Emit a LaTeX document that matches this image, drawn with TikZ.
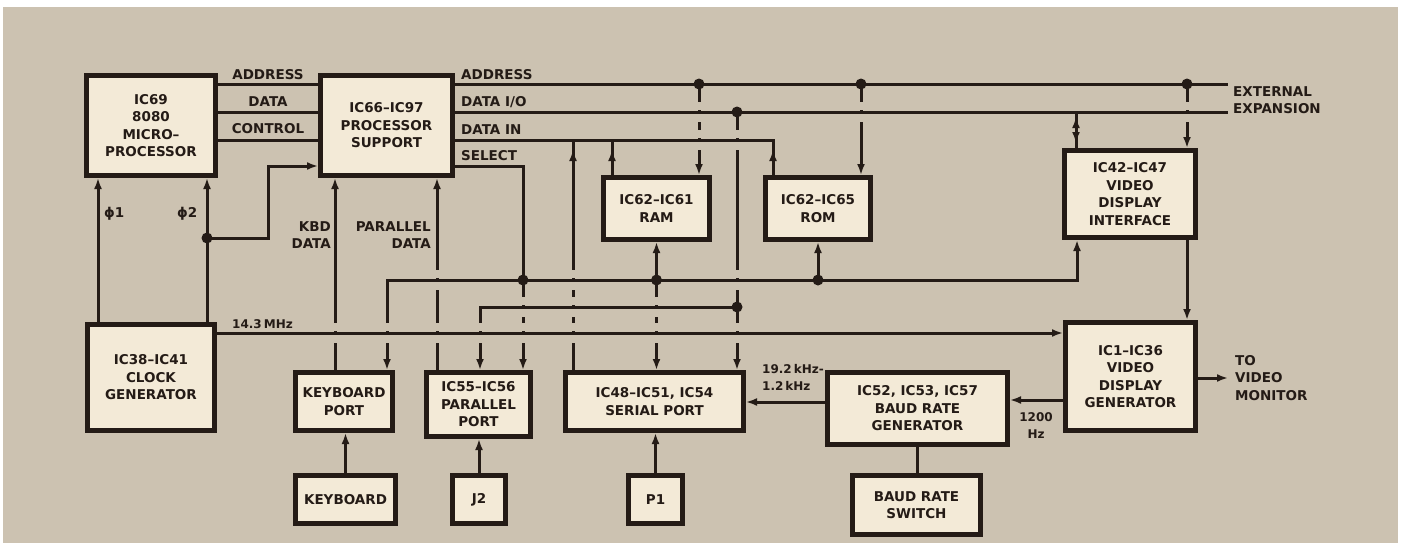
\documentclass[tikz,border=0pt]{standalone}
\usepackage{fontspec}
\setmainfont{DejaVu Sans}
\usetikzlibrary{arrows.meta,decorations.markings,calc}
\definecolor{paper}{RGB}{204,194,177}
\definecolor{cream}{RGB}{243,234,215}
\definecolor{ink}{RGB}{36,27,22}
\newcommand\bfnt{\fontsize{13.5}{17.5}\selectfont\bfseries}
\newcommand\tfnt{\fontsize{12}{17}\selectfont\bfseries}
\newcommand\gapat[2]{\fill[paper] (#1-3.2,#2-10) rectangle (#1+3.2,#2-2); \fill[paper] (#1-3.2,#2+2) rectangle (#1+3.2,#2+10);}
\begin{document}
\begin{tikzpicture}[x=1pt,y=-1pt,
  >={Latex[length=11pt,width=8pt]},
  wire/.style={draw=ink, line width=3pt},
  blk/.style={draw=ink, fill=cream, line width=5pt, align=center, font=\bfnt, inner sep=0pt, text=ink},
  bx/.style 2 args={minimum width={(#1-5)*1pt}, minimum height={(#2-5)*1pt}},
  lbl/.style={font=\bfnt, text=ink, inner sep=0pt, align=left},
  jdot/.style={circle, fill=ink, minimum size=11pt, inner sep=0pt},
  arrpos/.style={postaction={decorate}, decoration={markings, mark=at position #1 with {\arrow{>}}}}]
\fill[white] (0,0) rectangle (1405,549);
\fill[paper] (3,7) rectangle (1398,543);
\useasboundingbox (0,0) rectangle (1405,549);

% blocks
\node[blk, bx={134}{105}] (cpu) at (151,125.5) {IC69\\8080\\MICRO–\\PROCESSOR};
\node[blk, bx={137}{105}] (sup) at (386.5,125.5) {IC66–IC97\\PROCESSOR\\SUPPORT};
\node[blk, bx={111}{67}] (ram) at (656.5,208.5) {IC62–IC61\\RAM};
\node[blk, bx={110}{67}] (rom) at (818,208.5) {IC62–IC65\\ROM};
\node[blk, bx={136}{92}] (vdi) at (1130,194) {IC42–IC47\\VIDEO\\DISPLAY\\INTERFACE};
\node[blk, bx={132}{111}] (clk) at (151,377.5) {IC38–IC41\\CLOCK\\GENERATOR};
\node[blk, bx={102}{63}] (kbp) at (344,401.5) {KEYBOARD\\PORT};
\node[blk, bx={109}{69}] (par) at (478.5,404.5) {IC55–IC56\\PARALLEL\\PORT};
\node[blk, bx={183}{63}] (ser) at (654.5,401.5) {IC48–IC51, IC54\\SERIAL PORT};
\node[blk, bx={185}{77}] (baud) at (917.5,408.5) {IC52, IC53, IC57\\BAUD RATE\\GENERATOR};
\node[blk, bx={135}{113}] (vdg) at (1130.5,376.5) {IC1–IC36\\VIDEO\\DISPLAY\\GENERATOR};
\node[blk, bx={105}{53}] (kbd) at (345.5,499.5) {KEYBOARD};
\node[blk, bx={58}{53}] (j2) at (479,499.5) {J2};
\node[blk, bx={59}{53}] (p1) at (655.5,499.5) {P1};
\node[blk, bx={133}{64}] (sw) at (916.5,505) {BAUD RATE\\SWITCH};

% labels
\node[lbl] (tA0) at (268,75) {ADDRESS};
\node[lbl] (tD0) at (268,102) {DATA};
\node[lbl] (tC0) at (268,129) {CONTROL};
\node[lbl, anchor=west] (tA1) at (461,75) {ADDRESS};
\node[lbl, anchor=west] (tD1) at (461,102) {DATA I/O};
\node[lbl, anchor=west] (tI1) at (461,130) {DATA IN};
\node[lbl, anchor=west] (tS1) at (461,156) {SELECT};
\node[lbl, anchor=east, align=right] (tKD) at (331,235) {KBD\\DATA};
\node[lbl, anchor=east, align=right] (tPD) at (431,235) {PARALLEL\\DATA};
\node[lbl, anchor=west] (tF1) at (104,214) {ϕ1};
\node[lbl, anchor=west] (tF2) at (177,214) {ϕ2};
\node[lbl, font=\tfnt, anchor=west] (t14) at (232,324) {14.3\,MHz};
\node[lbl, font=\tfnt, anchor=west] (t19) at (762,377) {19.2\,kHz-\\1.2\,kHz};
\node[lbl, font=\tfnt, align=center] (t12) at (1036,426) {1200\\Hz};
\node[lbl, anchor=west] (mon) at (1235,378) {TO\\VIDEO\\MONITOR};
\node[lbl, anchor=west] (ext) at (1233,100) {EXTERNAL\\EXPANSION};

% coordinates
\coordinate (yA) at (0,84);
\coordinate (yD) at (0,112);
\coordinate (yC) at (0,140);
\coordinate (ext1) at (1228,84);
\coordinate (ext2) at (1228,112);
\coordinate (dA1) at (699,84);
\coordinate (dA2) at (861,84);
\coordinate (dA3) at (1187,84);
\coordinate (dD1) at (737,112);
\coordinate (tD) at (1076,112);
\coordinate (cDI) at (773,140);
\coordinate (xRT) at (612,0);
\coordinate (xST) at (573,0);
\coordinate (cS) at (523,166);
\coordinate (dS) at (523,280);
\coordinate (kL) at (387,280);
\coordinate (kR) at (1077,280);
\coordinate (dR) at (656.5,280);
\coordinate (dO) at (818,280);
\coordinate (dB) at (737,307);
\coordinate (bL) at (480,307);
\coordinate (dP) at (207,238);
\coordinate (p1c) at (268,238);
\coordinate (p2c) at (268,166);
\coordinate (xKD) at (335,0);
\coordinate (xPD) at (437,0);
\coordinate (xF1) at (98,0);
\coordinate (y14) at (0,333);
\coordinate (y12) at (0,400);
\coordinate (y19) at (0,402);

% buses
\draw[wire] (cpu.east |- yA) -- (sup.west |- yA);
\draw[wire] (cpu.east |- yD) -- (sup.west |- yD);
\draw[wire] (cpu.east |- yC) -- (sup.west |- yC);
\draw[wire] (sup.east |- yA) -- (ext1);
\draw[wire] (sup.east |- yD) -- (ext2);
\draw[wire, arrpos=25pt] (rom.north -| cDI) -- (cDI) -- (sup.east |- cDI);
\draw[wire, arrpos=-10pt] (ram.north -| xRT) -- (xRT |- yC);
\draw[wire, arrpos=-10pt] (ser.north -| xST) -- (xST |- yC);
\draw[wire,->] (dA1) -- (ram.north -| dA1);
\draw[wire,->] (dA2) -- (rom.north -| dA2);
\draw[wire,->] (dA3) -- (vdi.north -| dA3);
\draw[wire, postaction={decorate}, decoration={markings,
   mark=at position 5pt with {\arrowreversed{>}},
   mark=at position 31pt with {\arrow{>}}}] (tD) -- (vdi.north -| tD);
\draw[wire,->] (dD1) -- (ser.north -| dD1);
\draw[wire,->] (dB) -- (bL) -- (par.north -| bL);
\draw[wire,->] (sup.east |- cS) -- (cS) -- (par.north -| cS);
\draw[wire,<->] (kbp.north -| kL) -- (kL) -- (kR) -- (vdi.south -| kR);
\draw[wire,<->] (ram.south) -- (ser.north -| ram.south);
\draw[wire,->] (dO) -- (rom.south -| dO);
\draw[wire,->] (kbp.north -| xKD) -- (sup.south -| xKD);
\draw[wire,->] (par.north -| xPD) -- (sup.south -| xPD);
\draw[wire,->] (clk.north -| xF1) -- (cpu.south -| xF1);
\draw[wire,->] (clk.north -| dP) -- (cpu.south -| dP);
\draw[wire,->] (dP) -- (p1c) -- (p2c) -- (sup.west |- p2c);
\draw[wire,->] (clk.east |- y14) -- (vdg.west |- y14);
\draw[wire,->] (vdi.south -| dA3) -- (vdg.north -| dA3);
\draw[wire,->] (vdg.east |- mon.west) -- ([xshift=-7pt]mon.west);
\draw[wire,->] (vdg.west |- y12) -- (baud.east |- y12);
\draw[wire,->] (baud.west |- y19) -- (ser.east |- y19);
\draw[wire] (baud.south) -- (baud.south |- sw.north);
\draw[wire,->] (kbd.north) -- (kbd.north |- kbp.south);
\draw[wire,->] (j2.north) -- (j2.north |- par.south);
\draw[wire,->] (p1.north) -- (p1.north |- ser.south);

% crossing gaps
\gapat{699}{112}\gapat{861}{112}\gapat{1187}{112}
\gapat{699}{140}\gapat{737}{140}
\gapat{437}{280}\gapat{573}{280}\gapat{737}{280}
\gapat{523}{307}\gapat{573}{307}\gapat{656.5}{307}
\gapat{335}{333}\gapat{387}{333}\gapat{437}{333}\gapat{480}{333}
\gapat{523}{333}\gapat{573}{333}\gapat{656.5}{333}\gapat{737}{333}

% junction dots
\foreach \p in {dA1,dA2,dA3,dD1,dS,dR,dO,dB,dP}
  \node[jdot] at (\p) {};
\end{tikzpicture}
\end{document}
